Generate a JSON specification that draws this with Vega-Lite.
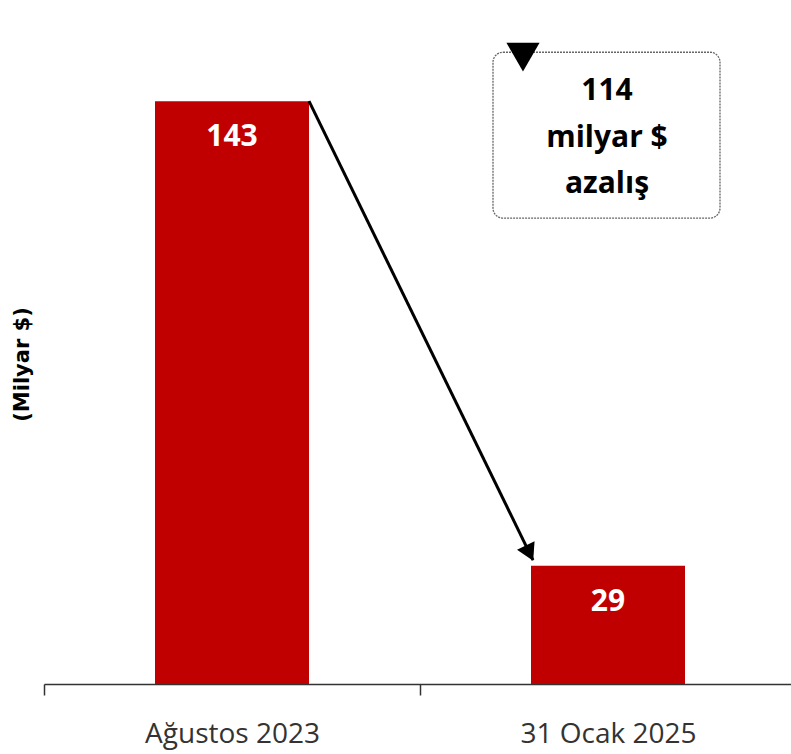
{
  "$schema": "https://vega.github.io/schema/vega-lite/v6.json",
  "autosize": "none",
  "padding": {"left": 44, "top": 40, "right": 0, "bottom": 70},
  "width": 752,
  "height": 644,
  "background": "white",
  "config": {"view": {"stroke": null}},
  "datasets": {
    "bars": [
      {"cat": "Ağustos 2023", "value": 143},
      {"cat": "31 Ocak 2025", "value": 29}
    ],
    "arrow": [
      {"from": "Ağustos 2023", "to": "31 Ocak 2025", "start": 143, "end": 30.4}
    ],
    "note": [
      {"cat": "31 Ocak 2025", "top": 155, "bottom": 114.3, "marker": 153.8, "texty": 143.2, "label": "114\nmilyar $\nazalış"}
    ]
  },
  "layer": [
    {
      "data": {"name": "bars"},
      "mark": {"type": "bar", "color": "#C00000", "width": 154},
      "encoding": {
        "x": {
          "field": "cat", "type": "nominal", "sort": null,
          "scale": {"domain": ["Ağustos 2023", "31 Ocak 2025"], "paddingInner": 0, "paddingOuter": 0},
          "axis": {
            "title": null, "labelAngle": 0, "tickBand": "extent",
            "labelFont": "Open Sans", "labelFontSize": 28, "labelColor": "#333333",
            "domainColor": "#333333", "domainWidth": 1.5,
            "tickColor": "#333333", "tickWidth": 1.5, "tickSize": 11,
            "labelPadding": 25
          }
        },
        "y": {
          "field": "value", "type": "quantitative",
          "scale": {"domain": [0, 158], "nice": false},
          "axis": {
            "title": "(Milyar $)", "domain": false, "ticks": false, "labels": false, "grid": false,
            "titleFont": "DejaVu Sans", "titleFontWeight": "bold", "titleFontSize": 21, "titleColor": "#000000",
            "titleAngle": -90, "titleX": -22, "titleY": 324, "titleAlign": "center", "titleBaseline": "middle"
          }
        }
      }
    },
    {
      "data": {"name": "bars"},
      "mark": {"type": "text", "color": "white", "font": "Open Sans", "fontWeight": "bold", "fontSize": 30, "baseline": "middle", "dy": 36},
      "encoding": {
        "x": {"field": "cat", "type": "nominal"},
        "y": {"field": "value", "type": "quantitative"},
        "text": {"field": "value"}
      }
    },
    {
      "data": {"name": "arrow"},
      "mark": {"type": "rule", "color": "black", "strokeWidth": 3},
      "encoding": {
        "x": {"field": "from", "type": "nominal", "bandPosition": 0.7048},
        "x2": {"field": "to", "bandPosition": 0.3005},
        "y": {"field": "start", "type": "quantitative"},
        "y2": {"field": "end"}
      }
    },
    {
      "data": {"name": "arrow"},
      "mark": {"type": "point", "shape": "triangle-down", "filled": true, "color": "black", "opacity": 1, "size": 380, "angle": 334, "xOffset": -3.5, "yOffset": -7},
      "encoding": {
        "x": {"field": "to", "type": "nominal", "bandPosition": 0.3005},
        "y": {"field": "end", "type": "quantitative"}
      }
    },
    {
      "data": {"name": "note"},
      "mark": {"type": "bar", "width": 227, "xOffset": -1.5, "fill": "white", "stroke": "#666666", "strokeWidth": 1.3, "strokeDash": [2, 1], "cornerRadius": 10},
      "encoding": {
        "x": {"field": "cat", "type": "nominal"},
        "y": {"field": "top", "type": "quantitative"},
        "y2": {"field": "bottom"}
      }
    },
    {
      "data": {"name": "note"},
      "mark": {"type": "point", "shape": "triangle-down", "filled": true, "color": "black", "opacity": 1, "size": 1100, "xOffset": -10},
      "encoding": {
        "x": {"field": "cat", "type": "nominal", "bandPosition": 0.3005},
        "y": {"field": "marker", "type": "quantitative"}
      }
    },
    {
      "data": {"name": "note"},
      "mark": {"type": "text", "color": "black", "font": "Open Sans", "fontWeight": "bold", "fontSize": 30, "baseline": "alphabetic", "align": "center", "lineBreak": "\n", "lineHeight": 46.5, "dx": -1},
      "encoding": {
        "x": {"field": "cat", "type": "nominal"},
        "y": {"field": "texty", "type": "quantitative"},
        "text": {"field": "label"}
      }
    }
  ]
}
